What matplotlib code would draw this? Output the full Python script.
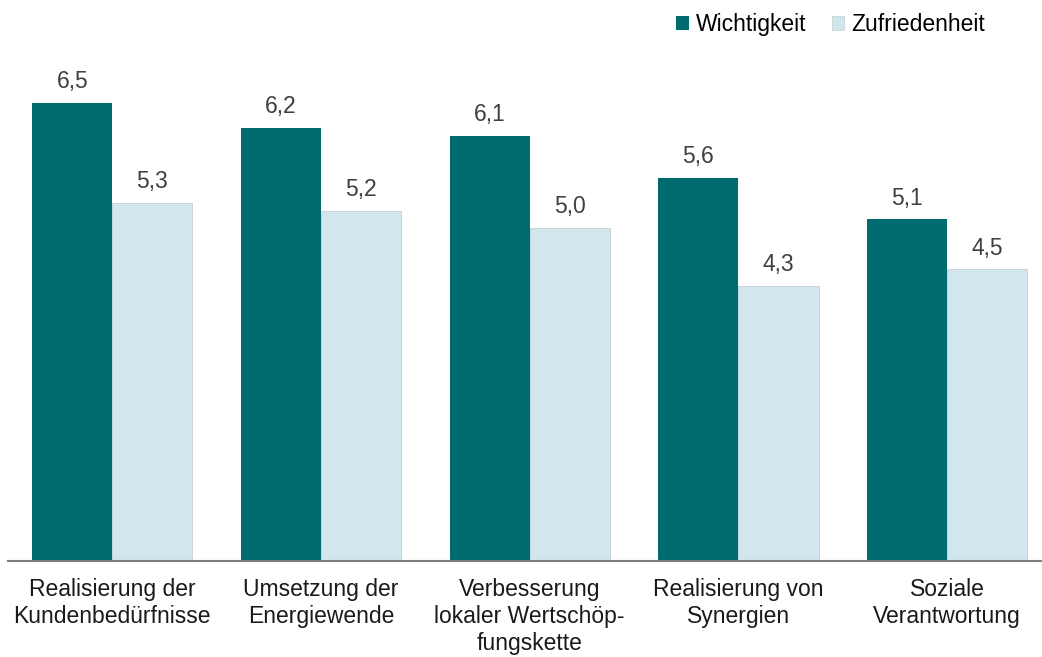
import matplotlib
matplotlib.use('Agg')
import matplotlib.pyplot as plt
import numpy as np
from matplotlib.patches import Patch

categories = ['Realisierung der\nKundenbedürfnisse',
              'Umsetzung der\nEnergiewende',
              'Verbesserung\nlokaler Wertschöp-\nfungskette',
              'Realisierung von\nSynergien',
              'Soziale\nVerantwortung']
wichtigkeit = [6.5, 6.2, 6.1, 5.6, 5.1]
zufriedenheit = [5.3, 5.2, 5.0, 4.3, 4.5]
series_names = ['Wichtigkeit', 'Zufriedenheit']

DARK = '#006b6e'
LIGHT = '#d2e6ee'
FS = 16.5

plt.rcParams['font.family'] = ['Liberation Sans', 'DejaVu Sans']

W, H = 1042, 657
fig = plt.figure(figsize=(W / 100, H / 100), dpi=100)

# axes placement in pixels
left_px, right_px = 8, 1042
bottom_px, top_px = 561, 61
ax = fig.add_axes([left_px / W, 1 - bottom_px / H,
                   (right_px - left_px) / W, (bottom_px - top_px) / H])

x = np.arange(len(categories))
bw = 0.384
ax.bar(x - bw / 2, wichtigkeit, width=bw, color=DARK, linewidth=0)
ax.bar(x + bw / 2, zufriedenheit, width=bw, color=LIGHT,
       edgecolor='#c4cfd3', linewidth=0.6)

for xi, v in zip(x - bw / 2, wichtigkeit):
    ax.annotate(f'{v:.1f}'.replace('.', ','), (xi, v), xytext=(0, 7),
                textcoords='offset points', ha='center', va='bottom',
                fontsize=FS, color='#404040')
for xi, v in zip(x + bw / 2, zufriedenheit):
    ax.annotate(f'{v:.1f}'.replace('.', ','), (xi, v), xytext=(0, 7),
                textcoords='offset points', ha='center', va='bottom',
                fontsize=FS, color='#404040')

spacing = 208.7
ax.set_xlim(-0.5, -0.5 + (right_px - left_px) / spacing)
ax.set_ylim(1, 7)

ax.set_xticks(x)
ax.set_xticklabels(categories, fontsize=FS, color='#1a1a1a', linespacing=1.22)
ax.tick_params(axis='x', length=0, pad=12)
ax.set_yticks([])

for s in ['top', 'right', 'left']:
    ax.spines[s].set_visible(False)
ax.spines['bottom'].set_color('#7f7f7f')
ax.spines['bottom'].set_linewidth(1.5)

handles = [Patch(facecolor=DARK, label=series_names[0]),
           Patch(facecolor=LIGHT, edgecolor='#c4cfd3', linewidth=0.5,
                 label=series_names[1])]
fig.legend(handles=handles, loc='upper right', ncol=2, frameon=False,
           bbox_to_anchor=(994 / W, 1 - 4 / H), fontsize=FS,
           handlelength=0.55, handleheight=0.55, handletextpad=0.3,
           columnspacing=1.1, borderaxespad=0)

fig.savefig('out.png', dpi=100)
